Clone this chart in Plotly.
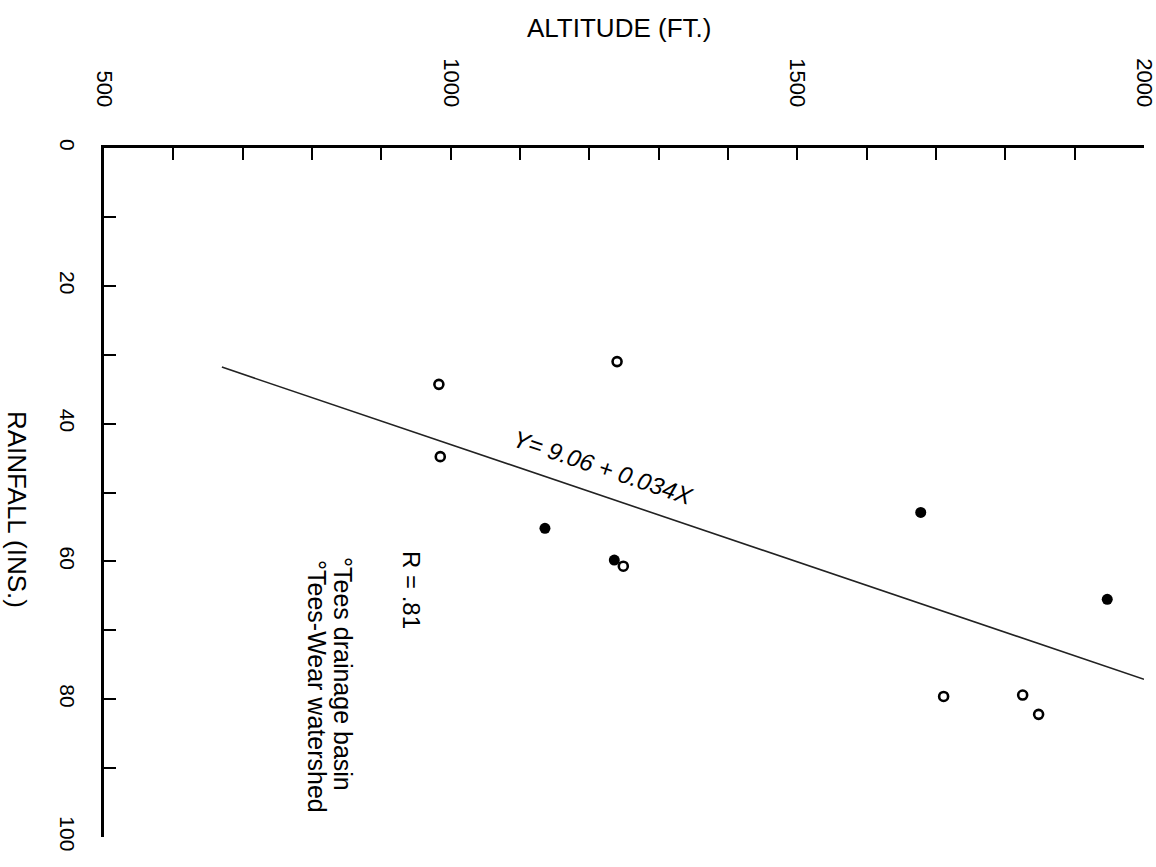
import plotly.graph_objects as go

# ---- data ----
# Tees-Wear watershed (open circles): altitude (ft), rainfall (ins)
open_alt = [983, 1240, 985, 1249, 1711, 1825, 1848]
open_rain = [34.3, 31.0, 44.8, 60.7, 79.6, 79.4, 82.2]
# Tees drainage basin (filled circles)
filled_alt = [1136, 1236, 1678, 1947]
filled_rain = [55.2, 59.8, 52.9, 65.5]
# regression line Y = 9.06 + 0.034X (end points)
line_alt = [670, 2000]
line_rain = [31.8, 77.1]

x_tickvals = [500, 600, 700, 800, 900, 1000, 1100, 1200, 1300, 1400,
              1500, 1600, 1700, 1800, 1900, 2000]
x_ticktext = ["500", "", "", "", "", "1000", "", "", "", "",
              "1500", "", "", "", "", "2000"]
y_tickvals = [0, 10, 20, 30, 40, 50, 60, 70, 80, 90, 100]
y_ticktext = ["0", "", "20", "", "40", "", "60", "", "80", "", "100"]

FONT = "Liberation Sans, Arial, sans-serif"

fig = go.Figure()
fig.add_trace(go.Scatter(
    x=line_alt, y=line_rain, mode="lines",
    line=dict(color="#222222", width=1.6),
    name="Y = 9.06 + 0.034X", hoverinfo="skip"))
fig.add_trace(go.Scatter(
    x=open_alt, y=open_rain, mode="markers", name="Tees-Wear watershed",
    marker=dict(symbol="circle-open", size=9, color="black",
                line=dict(width=2.6, color="black"))))
fig.add_trace(go.Scatter(
    x=filled_alt, y=filled_rain, mode="markers", name="Tees drainage basin",
    marker=dict(symbol="circle", size=11, color="black")))

L, T, W, H = 104, 148, 1040, 689


def px(xp):
    return (xp - L) / W


def py(yp):
    return 1 - (yp - T) / H


fig.update_layout(
    width=1156, height=867,
    margin=dict(l=L, r=1156 - L - W, t=T, b=867 - T - H, autoexpand=False),
    paper_bgcolor="white", plot_bgcolor="white",
    showlegend=False,
    font=dict(family=FONT, color="black"),
    xaxis=dict(
        side="top", range=[500, 2000], showgrid=False, zeroline=False,
        showline=True, linecolor="black", linewidth=3,
        ticks="inside", ticklen=12, tickwidth=2, tickcolor="black",
        tickvals=x_tickvals, ticktext=x_ticktext, tickangle=90,
        ticklabelstandoff=30, ticklabeloverflow="allow",
        tickfont=dict(size=22, family=FONT),
        automargin=False),
    yaxis=dict(
        range=[100, 0], showgrid=False, zeroline=False,
        showline=True, linecolor="black", linewidth=3,
        ticks="inside", ticklen=12, tickwidth=2, tickcolor="black",
        tickvals=y_tickvals, ticktext=y_ticktext, tickangle=90,
        ticklabelstandoff=16, ticklabeloverflow="allow",
        tickfont=dict(size=21, family=FONT),
        automargin=False),
)

annots = [
    dict(text="ALTITUDE (FT.)", xref="paper", yref="paper",
         x=px(619), y=py(28), showarrow=False,
         font=dict(size=26, family=FONT), xanchor="center", yanchor="middle"),
    dict(text="RAINFALL (INS.)", xref="paper", yref="paper",
         x=px(17), y=py(509), showarrow=False, textangle=90,
         font=dict(size=26, family=FONT), xanchor="center", yanchor="middle"),
    dict(text="<i>Y= 9.06 + 0.034X</i>", xref="x", yref="y", x=1220, y=46.4,
         showarrow=False, textangle=18.5, font=dict(size=24, family=FONT),
         xanchor="center", yanchor="middle"),
    dict(text="R = .81", xref="paper", yref="paper", x=px(412), y=py(590),
         showarrow=False, textangle=90, font=dict(size=24, family=FONT),
         xanchor="center", yanchor="middle"),
    dict(text="°Tees drainage basin", xref="paper", yref="paper",
         x=px(343), y=py(674), showarrow=False, textangle=90,
         font=dict(size=25, family=FONT), xanchor="center", yanchor="middle"),
    dict(text="°Tees-Wear watershed", xref="paper", yref="paper",
         x=px(317), y=py(686), showarrow=False, textangle=90,
         font=dict(size=25, family=FONT), xanchor="center", yanchor="middle"),
]
fig.update_layout(annotations=annots)

fig.write_html("out.html")
